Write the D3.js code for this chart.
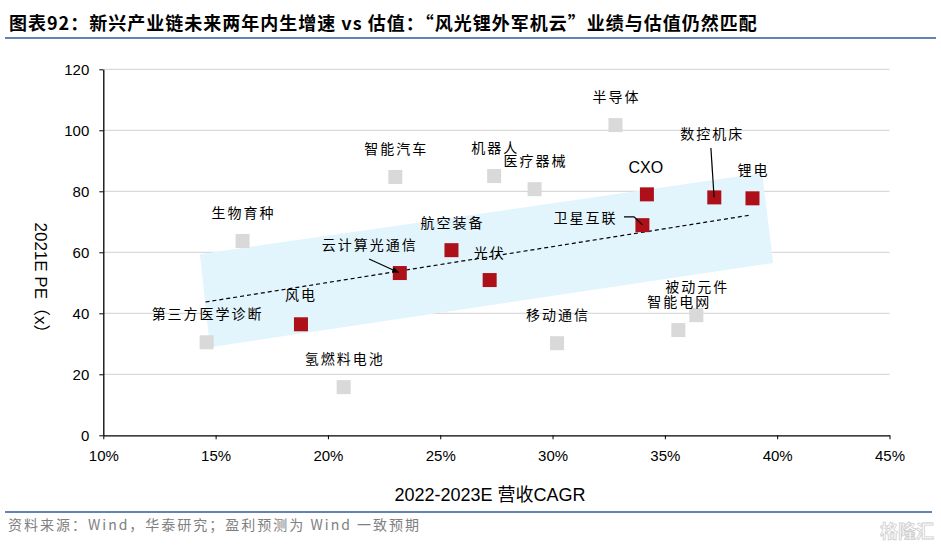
<!DOCTYPE html>
<html>
<head>
<meta charset="utf-8">
<script src="https://cdn.jsdelivr.net/npm/d3@7/dist/d3.min.js"></script>
<style>
  html, body { margin: 0; padding: 0; background: #fff; }
  svg { display: block; }
</style>
</head>
<body>
<svg id="chart" width="941" height="549"></svg>
<script>
// ---------------- data ----------------
const titleText = "图表92：新兴产业链未来两年内生增速 vs 估值：“风光锂外军机云”业绩与估值仍然匹配";
const sourceText = "资料来源：Wind，华泰研究；盈利预测为 Wind 一致预期";
const xAxisTitle = "2022-2023E 营收CAGR";
const yAxisTitle = "2021E PE（x）";

const xTicks = [10, 15, 20, 25, 30, 35, 40, 45];
const yTicks = [0, 20, 40, 60, 80, 100, 120];

// highlighted (red) industries: name, revenue CAGR (%), PE
const redNames = ["风电", "云计算光通信", "航空装备", "光伏", "卫星互联", "CXO", "数控机床", "锂电"];
const redCagr  = [18.8, 23.2, 25.5, 27.2, 34.0, 34.2, 37.2, 38.9];
const redPE    = [36.4, 53.2, 60.7, 50.9, 68.9, 79.0, 78.0, 77.7];

// other (grey) industries
const greyNames = ["第三方医学诊断", "生物育种", "智能汽车", "机器人", "医疗器械", "半导体", "氢燃料电池", "移动通信", "智能电网", "被动元件"];
const greyCagr  = [14.6, 16.2, 23.0, 27.4, 29.2, 32.8, 20.7, 30.2, 35.6, 36.4];
const greyPE    = [30.5, 63.7, 84.7, 85.0, 80.7, 101.7, 15.8, 30.2, 34.5, 39.4];

// trend line (dashed) end points [CAGR, PE]
const trendLine = [[14.55, 43.7], [38.8, 72.2]];
// shaded band corners [CAGR, PE]
const bandCorners = [[14.3, 59.4], [39.33, 86.0], [39.82, 56.5], [14.75, 28.9]];
// leader lines [CAGR, PE]
const leaderCloud = [[21.83, 57.8], [23.15, 53.4]];
const leaderSat   = [[33.18, 71.6], [33.63, 71.6], [34.0, 69.0]];
const leaderCnc   = [[37.05, 94.2], [37.19, 78.0]];

// label placement (pixel offsets from point) — layout only
const labelOffset = {
  "数控机床": [-3, -63],
  "卫星互联": [-58, -7],
  "云计算光通信": [-31, -28],
  "CXO": [-1, -27],
  "航空装备": [0, -27],
  "光伏": [-1, -27],
  "风电": [-1, -29]
};

// ---------------- drawing ----------------
const svg = d3.select("#chart");
const cjk = "'Noto Sans CJK SC', 'Noto Sans', sans-serif";
const latin = "'Liberation Sans', Arial, 'Noto Sans CJK SC', sans-serif";

const x = d3.scaleLinear().domain([10, 45]).range([103.3, 889.5]);
const y = d3.scaleLinear().domain([0, 120]).range([435.3, 69.3]);

// title
svg.append("text")
  .attr("x", 9).attr("y", 30)
  .attr("font-family", cjk).attr("font-size", 18).attr("font-weight", 700)
  .attr("letter-spacing", 1)
  .attr("fill", "#000")
  .text(titleText);
svg.append("line")
  .attr("x1", 5).attr("x2", 936).attr("y1", 38).attr("y2", 38)
  .attr("stroke", "#6384b3").attr("stroke-width", 2.2);

// gridlines
svg.append("g").selectAll("line").data(yTicks.filter(d => d > 0)).join("line")
  .attr("x1", x(10)).attr("x2", x(45))
  .attr("y1", d => y(d)).attr("y2", d => y(d))
  .attr("stroke", "#d9d9d9").attr("stroke-width", 1.3);

// band
svg.append("polygon")
  .attr("points", bandCorners.map(d => [x(d[0]), y(d[1])].join(",")).join(" "))
  .attr("fill", "#e2f4fc");

// axes
const xAxis = svg.append("g").attr("transform", `translate(0,${y(0)})`)
  .call(d3.axisBottom(x).tickValues(xTicks).tickFormat(d => d + "%").tickSize(4).tickSizeOuter(0));
const yAxis = svg.append("g").attr("transform", `translate(${x(10)},0)`)
  .call(d3.axisLeft(y).tickValues(yTicks).tickSize(4).tickSizeOuter(0));
[xAxis, yAxis].forEach(g => {
  g.select(".domain").attr("stroke", "#000").attr("stroke-width", 1.3);
  g.selectAll(".tick line").attr("stroke", "#000").attr("stroke-width", 1);
  g.selectAll(".tick text").attr("font-family", latin).attr("font-size", 15).attr("fill", "#000");
});
xAxis.selectAll(".tick text").attr("dy", "0").attr("y", 26);
yAxis.selectAll(".tick text").attr("x", -14).attr("dy", "0.35em");

// axis titles
svg.append("text")
  .attr("x", 490).attr("y", 501).attr("text-anchor", "middle")
  .attr("font-family", latin).attr("font-size", 18).attr("fill", "#000")
  .text(xAxisTitle);
svg.append("text")
  .attr("transform", `translate(35,282) rotate(90)`)
  .attr("text-anchor", "middle")
  .attr("font-family", latin).attr("font-size", 17).attr("fill", "#000")
  .text(yAxisTitle);

// trend line
svg.append("line")
  .attr("x1", x(trendLine[0][0])).attr("y1", y(trendLine[0][1]))
  .attr("x2", x(trendLine[1][0])).attr("y2", y(trendLine[1][1]))
  .attr("stroke", "#000").attr("stroke-width", 1.2).attr("stroke-dasharray", "4,3");

// points
const sz = 14;
const greyData = greyNames.map((n, i) => ({ name: n, cagr: greyCagr[i], pe: greyPE[i] }));
const redData = redNames.map((n, i) => ({ name: n, cagr: redCagr[i], pe: redPE[i] }));

svg.append("g").selectAll("rect").data(greyData).join("rect")
  .attr("x", d => x(d.cagr) - sz / 2).attr("y", d => y(d.pe) - sz / 2)
  .attr("width", sz).attr("height", sz).attr("fill", "#d9d9d9");
svg.append("g").selectAll("rect").data(redData).join("rect")
  .attr("x", d => x(d.cagr) - sz / 2).attr("y", d => y(d.pe) - sz / 2)
  .attr("width", sz).attr("height", sz).attr("fill", "#ae101a");

// leader lines
const lineGen = d3.line().x(d => x(d[0])).y(d => y(d[1]));
svg.append("defs").append("marker")
  .attr("id", "arr").attr("viewBox", "0 0 10 10").attr("refX", 9).attr("refY", 5)
  .attr("markerWidth", 6).attr("markerHeight", 6).attr("orient", "auto")
  .append("path").attr("d", "M0,1 L10,5 L0,9 Z").attr("fill", "#000");
svg.append("path").attr("d", lineGen(leaderCloud)).attr("fill", "none")
  .attr("stroke", "#000").attr("stroke-width", 1.2).attr("marker-end", "url(#arr)");
svg.append("path").attr("d", lineGen(leaderSat)).attr("fill", "none")
  .attr("stroke", "#000").attr("stroke-width", 1.2);
svg.append("path").attr("d", lineGen(leaderCnc)).attr("fill", "none")
  .attr("stroke", "#000").attr("stroke-width", 1.2);

// labels
const allData = greyData.concat(redData);
svg.append("g").selectAll("text").data(allData).join("text")
  .attr("x", d => x(d.cagr) + (labelOffset[d.name] ? labelOffset[d.name][0] : 0) + (d.name === "CXO" ? 0 : 1))
  .attr("y", d => y(d.pe) + (labelOffset[d.name] ? labelOffset[d.name][1] : -28))
  .attr("dy", "0.35em")
  .attr("text-anchor", "middle")
  .attr("font-family", d => d.name === "CXO" ? latin : cjk)
  .attr("font-size", d => d.name === "CXO" ? 16 : 14)
  .attr("letter-spacing", d => d.name === "CXO" ? 0 : 2)
  .attr("fill", "#000")
  .text(d => d.name);

// footer
svg.append("line")
  .attr("x1", 5).attr("x2", 932).attr("y1", 512).attr("y2", 512)
  .attr("stroke", "#6384b3").attr("stroke-width", 2.2);
svg.append("text")
  .attr("x", 8).attr("y", 530)
  .attr("font-family", cjk).attr("font-size", 14).attr("letter-spacing", 2).attr("fill", "#808080")
  .text(sourceText);
svg.append("text")
  .attr("x", 934).attr("y", 538).attr("text-anchor", "end")
  .attr("font-family", cjk).attr("font-size", 18).attr("font-weight", 700)
  .attr("fill", "none").attr("stroke", "#cfcfcf").attr("stroke-width", 0.8)
  .text("格隆汇");
</script>
</body>
</html>
